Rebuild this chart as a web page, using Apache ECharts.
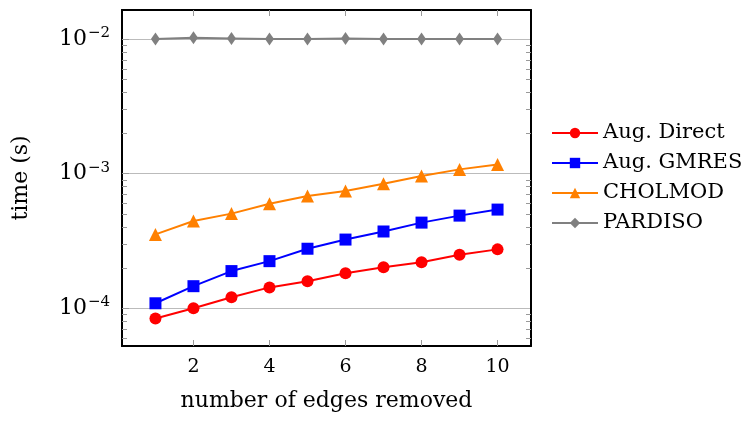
<!DOCTYPE html>
<html>
<head>
<meta charset="utf-8">
<script src="https://cdn.jsdelivr.net/npm/echarts@6/dist/echarts.min.js"></script>
<style>
  html, body { margin: 0; padding: 0; background: #fff; }
  #main { width: 752px; height: 422px; }
</style>
</head>
<body>
<div id="main"></div>
<script>
// values
const edgesRemoved = [1, 2, 3, 4, 5, 6, 7, 8, 9, 10]
const augDirect = [8.4e-5, 1.0e-4, 1.21e-4, 1.43e-4, 1.59e-4, 1.82e-4, 2.02e-4, 2.2e-4, 2.5e-4, 2.74e-4]
const augGmres = [1.09e-4, 1.46e-4, 1.89e-4, 2.24e-4, 2.77e-4, 3.24e-4, 3.72e-4, 4.33e-4, 4.88e-4, 5.41e-4]
const cholmod = [3.54e-4, 4.45e-4, 5.05e-4, 5.98e-4, 6.82e-4, 7.43e-4, 8.43e-4, 9.6e-4, 1.076e-3, 1.17e-3]
const pardiso = [0.0100, 0.0102, 0.0101, 0.0100, 0.0100, 0.0101, 0.0100, 0.0100, 0.0100, 0.0100]

const xTicks = [2, 4, 6, 8, 10]
const yMajor = [1e-4, 1e-3, 1e-2]
const yMinor = []
for (let e = -5; e <= -2; e++) {
  for (let m = 2; m <= 9; m++) yMinor.push(m * Math.pow(10, e))
}

const font = 'DejaVu Serif'
const tickStyle = { color: '#999', width: 1 }
const frame = { show: true, onZero: false, lineStyle: { color: '#000', width: 2 } }

function pair(xs, ys) {
  return xs.map((x, i) => [x, ys[i]])
}

const chart = echarts.init(document.getElementById('main'))

const xBase = {
  type: 'value',
  min: 0.12,
  max: 10.88,
  axisLine: frame,
  axisTick: { show: true, inside: true, length: 6, lineStyle: tickStyle, customValues: xTicks },
  splitLine: { show: false }
}

// log y axis; several copies share the scale, one for labels/grid, others for minor ticks
function yAxisCopy(extra) {
  return Object.assign({
    type: 'log',
    min: 5.25e-5,
    max: 0.01642,
    axisLine: frame,
    axisTick: { show: true, inside: true, length: 5, lineStyle: tickStyle, customValues: yMinor },
    axisLabel: { show: false },
    splitLine: { show: false },
    minorTick: { show: false }
  }, extra)
}

chart.setOption({
  animation: false,
  textStyle: { fontFamily: font },
  grid: { left: 122, top: 10, width: 409, height: 336, containLabel: false },
  legend: {
    orient: 'vertical',
    left: 546,
    top: 117,
    itemWidth: 46,
    itemHeight: 13,
    itemGap: 8,
    textStyle: { fontFamily: font, fontSize: 21, lineHeight: 22, color: '#000' },
    data: ['Aug. Direct', 'Aug. GMRES', 'CHOLMOD', 'PARDISO']
  },
  xAxis: [
    Object.assign({}, xBase, {
      position: 'bottom',
      name: 'number of edges removed',
      nameLocation: 'middle',
      nameGap: 44,
      nameTextStyle: { fontFamily: font, fontSize: 22, color: '#000' },
      axisLabel: { show: true, customValues: xTicks, margin: 12, fontFamily: font, fontSize: 19, color: '#000' }
    }),
    Object.assign({}, xBase, {
      position: 'top',
      axisLabel: { show: false }
    })
  ],
  yAxis: [
    yAxisCopy({
      position: 'left',
      name: 'time (s)',
      nameLocation: 'middle',
      nameGap: 90,
      nameTextStyle: { fontFamily: font, fontSize: 22, color: '#000' },
      axisTick: { show: true, inside: true, length: 7, lineStyle: tickStyle, customValues: yMajor },
      splitLine: { show: true, lineStyle: { color: '#bbb', width: 1 } },
      axisLabel: {
        show: true,
        customValues: yMajor,
        margin: 12,
        formatter: function (v) {
          return '{b|10}{s|−' + Math.round(-Math.log10(v)) + '}'
        },
        rich: {
          b: { fontFamily: font, fontSize: 22, color: '#000' },
          s: { fontFamily: font, fontSize: 15, color: '#000', padding: [0, 0, 12, 1] }
        }
      }
    }),
    yAxisCopy({ position: 'left' }),
    yAxisCopy({ position: 'right' })
  ],
  series: [
    {
      name: 'Aug. Direct', type: 'line', data: pair(edgesRemoved, augDirect),
      symbol: 'circle', symbolSize: 12,
      itemStyle: { color: '#ff0000' }, lineStyle: { color: '#ff0000', width: 2 }
    },
    {
      name: 'Aug. GMRES', type: 'line', data: pair(edgesRemoved, augGmres),
      symbol: 'rect', symbolSize: 12,
      itemStyle: { color: '#0000ff' }, lineStyle: { color: '#0000ff', width: 2 }
    },
    {
      name: 'CHOLMOD', type: 'line', data: pair(edgesRemoved, cholmod),
      symbol: 'triangle', symbolSize: 13,
      itemStyle: { color: '#ff8000' }, lineStyle: { color: '#ff8000', width: 2 }
    },
    {
      name: 'PARDISO', type: 'line', data: pair(edgesRemoved, pardiso),
      symbol: 'diamond', symbolSize: [9, 13],
      itemStyle: { color: '#808080' }, lineStyle: { color: '#808080', width: 2 }
    }
  ]
})
</script>
</body>
</html>
